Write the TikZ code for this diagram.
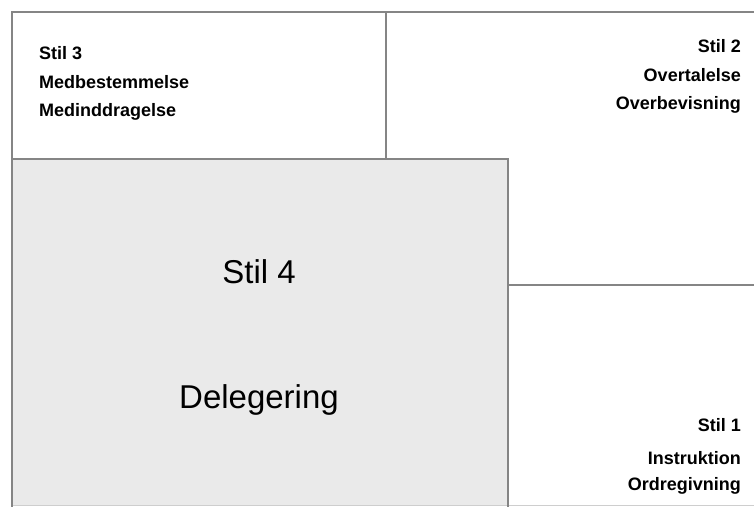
\documentclass[tikz,border=0pt]{standalone}
\usepackage{fontspec}
\setmainfont{Liberation Sans}
\usepackage{xcolor}
\definecolor{boxgrey}{HTML}{EAEAEA}
\definecolor{edgegrey}{HTML}{858585}

\begin{document}
\begin{tikzpicture}[x=1pt, y=-1pt,
    edge/.style={draw=edgegrey, line width=1.8pt},
    lbl/.style={font=\fontsize{18}{21}\selectfont\bfseries, inner sep=0pt},
    big/.style={font=\fontsize{33}{39}\selectfont, inner sep=0pt}]
                  \useasboundingbox (0, 0) rectangle (754, 507);
                  \fill[white] (0, 0) rectangle (754, 507);

                  \fill[boxgrey] (12, 159) rectangle (508, 505);
                  \draw[edgegrey!40, line width=1pt] (12, 505) -- (754, 505);

                  \draw[edge] (754, 12) -- (12, 12) -- (12, 507);
                  \draw[edge] (386, 12) -- (386, 159);
                  \draw[edge] (12, 159) -- (508, 159) -- (508, 507);
                  \draw[edge] (508, 285) -- (754, 285);

                  \node[lbl, anchor=base west] (s3) at (39, 59) {Stil 3};
                  \node[lbl, anchor=base west] (s3a) at (39, 88) {Medbestemmelse};
                  \node[lbl, anchor=base west] (s3b) at (39, 116) {Medinddragelse};

                  \node[lbl, anchor=base east] (s2) at (741, 52) {Stil 2};
                  \node[lbl, anchor=base east] (s2a) at (741, 81) {Overtalelse};
                  \node[lbl, anchor=base east] (s2b) at (741, 109) {Overbevisning};

                  \node[lbl, anchor=base east] (s1) at (741, 431) {Stil 1};
                  \node[lbl, anchor=base east] (s1a) at (741, 464) {Instruktion};
                  \node[lbl, anchor=base east] (s1b) at (741, 490) {Ordregivning};

                  \node[big, anchor=base] (s4) at (259, 283) {Stil 4};
                  \node[big, anchor=base] (s4a) at (259, 408) {Delegering};
              \end{tikzpicture}
\end{document}
